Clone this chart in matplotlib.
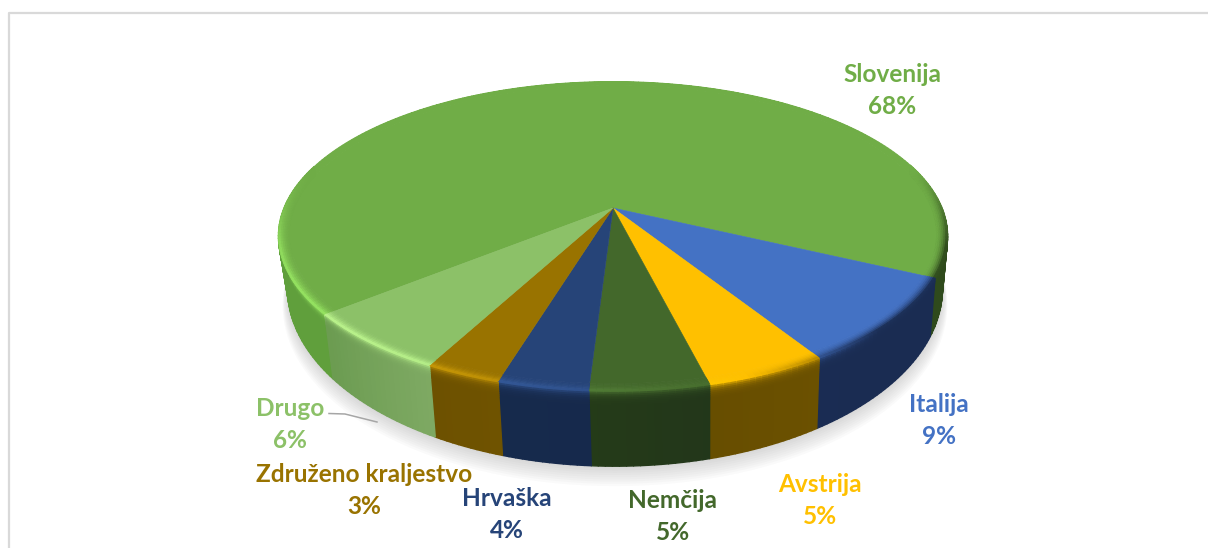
import numpy as np
import matplotlib
matplotlib.use('Agg')
import matplotlib.pyplot as plt
from matplotlib.collections import PolyCollection
from matplotlib.colors import to_rgb

categories = ['Slovenija', 'Italija', 'Avstrija', 'Nemčija', 'Hrvaška', 'Združeno kraljestvo', 'Drugo']
shares = [68, 9, 5, 4.85, 3.7, 3.1, 6.35]
share_labels = ['68%', '9%', '5%', '5%', '4%', '3%', '6%']
top_colors = ['#70AD47', '#4472C4', '#FFC000', '#43682B', '#264478', '#997300', '#8CC168']
wall_start = ['#2F4A1C', '#1A2C52', '#6A5000', '#22361A', '#16294B', '#6E5200', '#7DA862']
wall_end = ['#5F9E3C', '#1A2C52', '#654C00', '#243A18', '#16294B', '#6C5000', '#6A9A50']
text_colors = ['#70AD47', '#4472C4', '#FFC000', '#43682B', '#264478', '#997300', '#8CC168']
label_x = [892, 939, 820, 673, 507, 364, 290]
label_y = [74, 404, 484, 501, 498, 474, 408]

# projection of the pie circle, in pixels
start_angle = 219.2
k = 0.1818
top_cx, top_cy, top_rx, top_ry = 613, 208, 329, 149.5
bot_cx, bot_cy, bot_rx, bot_ry = 615, 256, 322, 172


def project(theta, r, cx, cy, rx, ry):
    x = r * np.cos(np.radians(theta))
    y = r * np.sin(np.radians(theta))
    den = 1 + k * y
    return np.column_stack([cx + rx * x / den, cy - ry * y / den])


def blend(a, b, w):
    return tuple((1 - w) * np.array(a) + w * np.array(b))


def rim_color(theta, top, wall):
    # light comes from lower left, right side goes dark, back side has no rim
    s = np.cos(np.radians(theta + 140)) - 0.35
    front = np.clip((0.25 - np.sin(np.radians(theta))) / 0.5, 0, 1)
    if s > 0:
        lit = tuple(np.minimum(np.array(top) * 1.35 + 0.03, 1))
        return blend(top, lit, min(s * 1.2, 1) * front)
    return blend(top, wall, min(-s * 2.2, 0.95) * front)


fig = plt.figure(figsize=(12.08, 5.48), dpi=100)
ax = fig.add_axes([0, 0, 1, 1])
ax.set_xlim(0, 1208)
ax.set_ylim(548, 0)
ax.axis('off')

# frame of the chart area
ax.plot([9, 9, 1208], [548, 12.5, 12.5], color='#D9D9D9', lw=1.6, solid_capstyle='butt')

# soft shadow under the pie
circle = np.arange(0, 360, 2.0)
for off in np.arange(18, 0, -2):
    pts = project(circle, 1 + off * 0.0008, bot_cx, bot_cy + off * 0.9, bot_rx, bot_ry)
    ax.fill(pts[:, 0], pts[:, 1], color='#7F7F7F', alpha=0.035, lw=0, zorder=1)

angles = start_angle - np.cumsum([0] + shares) * 3.6
wall_polys, wall_cols = [], []
top_polys, top_cols = [], []
band_polys, band_cols = [], []
step = 1.0
wall_levels = np.concatenate([np.linspace(0, 0.2, 9), [1.0]])
band_levels = np.linspace(0.968, 1.0, 7)

for i in range(len(shares)):
    a0, a1 = angles[i], angles[i + 1]
    top = to_rgb(top_colors[i])
    w0, w1 = to_rgb(wall_start[i]), to_rgb(wall_end[i])
    thetas = np.linspace(a0, a1, max(int(abs(a1 - a0) / step), 2) + 1)

    # flat top of the slice, from the centre out to the band
    arc = project(thetas, band_levels[0], top_cx, top_cy, top_rx, top_ry)
    apex = project(np.array([0.0]), 0, top_cx, top_cy, top_rx, top_ry)
    top_polys.append(np.vstack([apex, arc]))
    top_cols.append(top)

    for j in range(len(thetas) - 1):
        t0, t1 = thetas[j], thetas[j + 1]
        mid = (t0 + t1) / 2
        frac = j / (len(thetas) - 1)
        if categories[i] == 'Slovenija':
            wall = w0 if np.cos(np.radians(mid)) > 0 else w1
        else:
            wall = blend(w0, w1, frac)
        rim = rim_color(mid, top, wall)
        pair = np.array([t0, t1])

        for n in range(len(band_levels) - 1):
            inner = project(pair, band_levels[n], top_cx, top_cy, top_rx, top_ry)
            outer = project(pair, band_levels[n + 1], top_cx, top_cy, top_rx, top_ry)
            band_polys.append(np.vstack([inner, outer[::-1]]))
            band_cols.append(blend(top, rim, ((n + 1) / (len(band_levels) - 1)) ** 2))

        if np.sin(np.radians(mid)) > 0.3:
            continue
        up = project(pair, 1, top_cx, top_cy, top_rx, top_ry)
        low = project(pair, 1, bot_cx, bot_cy, bot_rx, bot_ry)
        for n in range(len(wall_levels) - 1):
            a, b = wall_levels[n], wall_levels[n + 1]
            wall_polys.append(np.vstack([up + a * (low - up), (up + b * (low - up))[::-1]]))
            wall_cols.append(blend(wall, rim, np.exp(-a / 0.045)))

for polys, cols, z, lw in [(wall_polys, wall_cols, 2, 1.0), (top_polys, top_cols, 3, 0.4),
                           (band_polys, band_cols, 4, 0.6)]:
    ax.add_collection(PolyCollection(polys, facecolors=cols, edgecolors=cols, linewidths=lw, zorder=z))

# leader line of the Drugo label
ax.plot([329, 345, 377], [413.5, 414, 422], color='#A6A6A6', lw=1.1, zorder=5)

for name, share, x, y, c in zip(categories, share_labels, label_x, label_y, text_colors):
    ax.text(x, y, name, color=c, fontsize=17.6, family='Lato', fontweight='bold',
            ha='center', va='center', zorder=6)
    ax.text(x, y + 32, share, color=c, fontsize=17.6, family='Lato', fontweight='bold',
            ha='center', va='center', zorder=6)

fig.savefig('out.png', dpi=100, facecolor='white')
